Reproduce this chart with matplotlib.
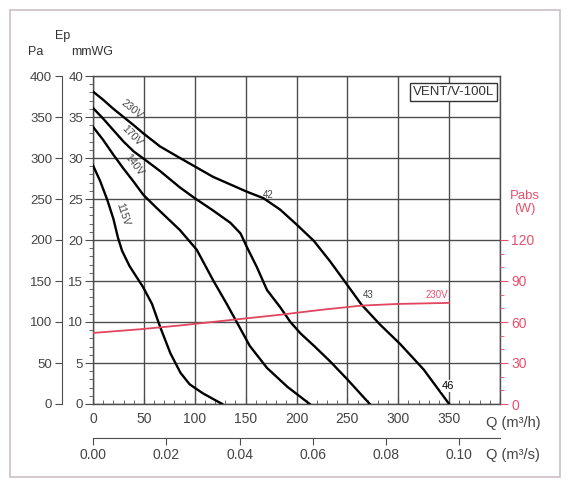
import numpy as np
import matplotlib

matplotlib.use("Agg")
import matplotlib.pyplot as plt  # noqa: E402
from matplotlib.patches import Rectangle  # noqa: E402
from matplotlib.ticker import FuncFormatter, MultipleLocator  # noqa: E402

plt.rcParams.update({
    "font.family": ["Liberation Sans", "DejaVu Sans"],
    "font.size": 9.5,
})

# fan curves, flow Q in m3/h, static pressure in Pa
q_230 = [0, 10, 20, 30, 40, 49.5, 66, 85.5, 118, 151, 167.5, 184, 200, 217, 233,
         250, 264, 282, 302, 325, 350]
pa_230 = [381, 371, 360, 350, 340, 330, 314, 300, 277, 259, 251, 237, 219, 199, 174,
          145, 121, 97, 73, 42, 0]

q_170 = [0, 10, 20, 30, 40, 51, 66, 85.5, 100, 118, 135, 145, 151, 161, 171, 184,
         194, 204, 218, 233, 250, 272]
pa_170 = [361, 348, 334, 320, 308, 298, 284, 264, 251, 236, 221, 208, 192, 167, 139,
          118, 100, 86, 70, 52, 30, 0]

q_140 = [0, 10, 20, 30, 40, 49.5, 62.6, 85.5, 102, 118, 131, 143, 154, 171, 191, 213]
pa_140 = [338, 322, 304, 287, 271, 255, 239, 212, 188, 151, 123, 96, 71, 44, 21, 0]

q_115 = [0, 7, 14, 20, 24.5, 28.5, 36, 49, 58, 66, 76, 86, 95, 108, 127]
pa_115 = [291, 272, 249, 226, 203, 187, 168, 143, 122, 94, 62, 38, 24, 13, 0]

# absorbed power at 230 V, W
q_pow = [0, 46.5, 86, 134.7, 184, 223, 264, 299, 350]
w_pow = [52, 54.7, 57.5, 61.4, 65.3, 68.8, 72, 73.2, 74]

# label, q, Pa, where the label sits on the curve, angle of the curve
curves = [
    ("230V", q_230, pa_230, (32, 349), -39),
    ("170V", q_170, pa_170, (31, 318), -46),
    ("140V", q_140, pa_140, (32, 284), -53),
    ("115V", q_115, pa_115, (19.5, 228), -72),
]
# (text, q, Pa)
points = [("42", 172, 255), ("43", 270, 133)]

GRID = "#4d4d4d"
TXT = "#444444"
RED = "#e04660"
RED_TXT = "#e8506e"

fig = plt.figure(figsize=(5.7, 4.92), dpi=100)
fig.patches.append(Rectangle((10 / 570, 15 / 492), 550 / 570, 467 / 492,
                             transform=fig.transFigure, fill=False,
                             edgecolor="#cbbfc6", lw=1.2))
ax = fig.add_axes([93 / 570, 88 / 492, 407 / 570, 328 / 492])

for label, q, pa, (lx, ly), rot in curves:
    ax.plot(q, pa, color="black", lw=1.7, solid_joinstyle="round", zorder=4)
    th = np.radians(-rot)
    ax.annotate(label, (lx, ly), xytext=(7.5 * np.sin(th), 7.5 * np.cos(th)),
                textcoords="offset points", rotation=rot, fontsize=7.5,
                color=TXT, ha="center", va="center", rotation_mode="anchor",
                zorder=5)
for t, x, y in points:
    ax.text(x, y, t, fontsize=7, color=TXT, ha="center", va="center", zorder=5)
ax.text(349, 22, "46", fontsize=8, color="black", ha="center", va="center",
        zorder=6, bbox=dict(facecolor="white", edgecolor="none", pad=0.5))

ax.set_xlim(0, 400)
ax.set_ylim(0, 400)
ax.xaxis.set_major_locator(MultipleLocator(50))
ax.xaxis.set_minor_locator(MultipleLocator(10))
ax.yaxis.set_major_locator(MultipleLocator(50))
ax.yaxis.set_minor_locator(MultipleLocator(10))
ax.xaxis.set_major_formatter(FuncFormatter(lambda v, _: "" if v > 360 else f"{v:.0f}"))
ax.yaxis.set_major_formatter(FuncFormatter(lambda v, _: f"{v / 10:.0f}"))
ax.grid(True, which="major", color=GRID, lw=1.0)
ax.set_axisbelow(True)
for s in ax.spines.values():
    s.set_color(GRID)
    s.set_linewidth(1.0)
ax.tick_params(axis="x", which="major", direction="in", length=4, color=GRID,
               labelcolor=TXT, labelsize=10, pad=6)
ax.tick_params(axis="x", which="minor", direction="in", length=3, color=GRID)
ax.tick_params(axis="y", which="major", direction="out", length=6, color=GRID,
               labelcolor=TXT, pad=1)
ax.tick_params(axis="y", which="minor", direction="out", length=3, color=GRID)

# Pa scale on a separate spine to the left
ax_pa = ax.secondary_yaxis(-31 / 407, functions=(lambda p: p, lambda p: p))
ax_pa.yaxis.set_major_locator(MultipleLocator(50))
ax_pa.spines["left"].set_color(GRID)
ax_pa.tick_params(axis="y", direction="out", length=5, color=GRID,
                  labelcolor=TXT, pad=2)

# m3/s scale under the m3/h scale
ax_s = ax.secondary_xaxis(-34 / 328, functions=(lambda q: q / 3600, lambda s: s * 3600))
ax_s.xaxis.set_major_locator(MultipleLocator(0.02))
ax_s.xaxis.set_major_formatter(FuncFormatter(lambda v, _: f"{v:.2f}"))
ax_s.spines["bottom"].set_color(GRID)
ax_s.tick_params(axis="x", direction="out", length=5, color=GRID,
                 labelcolor=TXT, labelsize=10, pad=2)

# absorbed power on the right
ax_w = ax.twinx()
ax_w.set_ylim(0, 240)
ax_w.plot(q_pow, w_pow, color=RED, lw=1.3, zorder=3)
ax_w.text(338, 80, "230V", fontsize=7, color=RED_TXT, ha="center", va="center")
ax_w.set_yticks([0, 30, 60, 90, 120])
ax_w.set_yticks(range(0, 121, 10), minor=True)
for s in ax_w.spines.values():
    s.set_visible(False)
ax_w.tick_params(axis="y", which="major", direction="out", length=6, color=RED_TXT,
                 labelcolor=RED_TXT, labelsize=10, pad=2)
ax_w.tick_params(axis="y", which="minor", direction="out", length=3, color=RED_TXT)
ax_w.text(1.06, 0.615, "Pabs\n(W)", transform=ax_w.transAxes, color=RED_TXT,
          ha="center", va="center", fontsize=9.5, linespacing=1.1)

# axis titles
fig.text(36 / 570, 1 - 52 / 492, "Pa", ha="center", va="center", color="#333333", fontsize=9)
fig.text(63 / 570, 1 - 36 / 492, "Ep", ha="center", va="center", color="#333333", fontsize=9)
fig.text(92 / 570, 1 - 52 / 492, "mmWG", ha="center", va="center", color="#333333", fontsize=9)
fig.text(486 / 570, 1 - 423 / 492, "Q (m³/h)", ha="left", va="center", color=TXT,
         fontsize=10.5)
fig.text(486 / 570, 1 - 455 / 492, "Q (m³/s)", ha="left", va="center", color=TXT,
         fontsize=10.5)

ax.text(0.985, 0.97, "VENT/V-100L", transform=ax.transAxes, ha="right", va="top",
        fontsize=9.5, color="#333333", zorder=6,
        bbox=dict(facecolor="white", edgecolor="#333333", lw=1.0, pad=2))

fig.savefig("out.png", dpi=100)
